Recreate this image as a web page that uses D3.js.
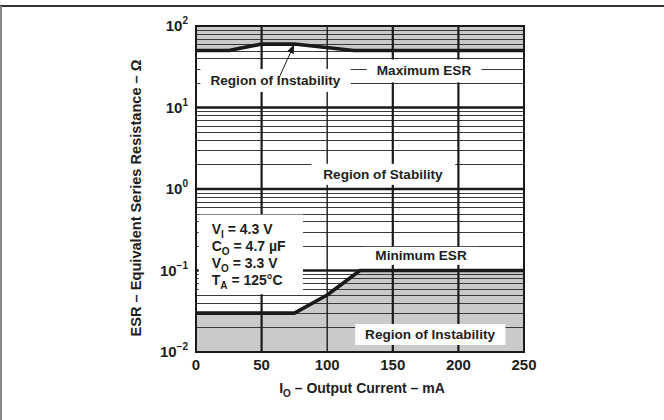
<!DOCTYPE html>
<html><head><meta charset="utf-8">
<script src="https://cdn.jsdelivr.net/npm/d3@7"></script>
<style>
body{margin:0;background:#fff}
svg{display:block}
text{font-family:"Liberation Sans",Arial,Helvetica,sans-serif;font-weight:bold;fill:#1e1e1e}
</style>
</head><body>
<svg id="chart" width="664" height="420"></svg>
<script>
// ---- data ----
const xTicks = [0, 50, 100, 150, 200, 250];
const yDecadeExps = [-2, -1, 0, 1, 2];
const yTickLabels = ["10", "10", "10", "10", "10"];
const yTickSups = ["−2", "−1", "0", "1", "2"];
const maxEsrCurrent = [0, 25, 50, 75, 120, 250];
const maxEsrValue = [50, 50, 60, 60, 50, 50];
const minEsrCurrent = [0, 75, 100, 125, 250];
const minEsrValue = [0.03, 0.03, 0.05, 0.1, 0.1];
const condSymbols = ["V", "C", "V", "T"];
const condSubs = ["I", "O", "O", "A"];
const condValues = [" = 4.3 V", " = 4.7 µF", " = 3.3 V", " = 125°C"];
const regionLabels = ["Region of Instability", "Maximum ESR", "Region of Stability", "Minimum ESR", "Region of Instability"];
const xTitle = ["I", "O", " – Output Current – mA"];
const yTitle = "ESR – Equivalent Series Resistance – Ω";

// ---- layout ----
const svg = d3.select("#chart");
const x = d3.scaleLinear().domain([0, 250]).range([196, 524]);
const y = d3.scaleLog().domain([0.01, 100]).range([352, 26]);
const GRAY = "#cacaca", INK = "#1a1a1a";

// page frame
svg.append("line").attr("x1", 0).attr("x2", 664).attr("y1", 6).attr("y2", 6)
  .attr("stroke", "#333").attr("stroke-width", 2);
svg.append("line").attr("x1", 1).attr("x2", 1).attr("y1", 6).attr("y2", 420)
  .attr("stroke", "#888").attr("stroke-width", 2);

const maxPts = maxEsrCurrent.map((c, i) => [c, maxEsrValue[i]]);
const minPts = minEsrCurrent.map((c, i) => [c, minEsrValue[i]]);

// gray instability regions
svg.append("path").datum(maxPts)
  .attr("d", d3.area().x(d => x(d[0])).y0(y(100)).y1(d => y(d[1])))
  .attr("fill", GRAY);
svg.append("path").datum(minPts)
  .attr("d", d3.area().x(d => x(d[0])).y0(y(0.01)).y1(d => y(d[1])))
  .attr("fill", GRAY);

// horizontal grid (log)
const minorVals = [];
yDecadeExps.slice(0, -1).forEach(e => {
  for (let m = 2; m <= 9; m++) minorVals.push(m * Math.pow(10, e));
});
svg.append("g").selectAll("line").data(minorVals).join("line")
  .attr("x1", x(0)).attr("x2", x(250))
  .attr("y1", d => Math.round(y(d)) + 0.5).attr("y2", d => Math.round(y(d)) + 0.5)
  .attr("stroke", "#3a3a3a").attr("stroke-width", 1);
svg.append("g").selectAll("line").data(yDecadeExps.slice(1, -1)).join("line")
  .attr("x1", x(0)).attr("x2", x(250))
  .attr("y1", d => y(Math.pow(10, d))).attr("y2", d => y(Math.pow(10, d)))
  .attr("stroke", INK).attr("stroke-width", 2.4);

// vertical grid
svg.append("g").selectAll("line").data(xTicks.slice(1, -1)).join("line")
  .attr("x1", d => x(d)).attr("x2", d => x(d))
  .attr("y1", y(100)).attr("y2", y(0.01))
  .attr("stroke", INK).attr("stroke-width", d => d === 100 ? 1.4 : 2.2);

// labels with white boxes
const lblGroup = svg.append("g");
function boxedLabel(text, cx, cy, padX, padY) {
  const g = lblGroup.append("g");
  const t = g.append("text").attr("x", x(cx)).attr("y", y(cy)).attr("dy", "0.36em")
    .attr("text-anchor", "middle").attr("font-size", 13.6).text(text);
  const b = t.node().getBBox();
  g.insert("rect", "text").attr("x", b.x - padX).attr("y", b.y - padY)
    .attr("width", b.width + 2 * padX).attr("height", b.height + 2 * padY)
    .attr("fill", "#fff");
  return t;
}
boxedLabel(regionLabels[0], 60.5, 21.7, 10, 4);
boxedLabel(regionLabels[1], 173.8, 28.4, 10, 4);
boxedLabel(regionLabels[2], 142.5, 1.53, 12, 3);
boxedLabel(regionLabels[3], 171.5, 0.153, 11, 1.5);
boxedLabel(regionLabels[4], 178.4, 0.0166, 10, 3);

// conditions legend
const cond = svg.append("g");
const condText = cond.append("g");
condSymbols.forEach((s, i) => {
  const t = condText.append("text").attr("x", x(12)).attr("y", y(0.327) + i * 17.2)
    .attr("dy", "0.36em").attr("font-size", 14);
  t.append("tspan").text(s);
  t.append("tspan").attr("font-size", 10).attr("dy", 4).text(condSubs[i]);
  t.append("tspan").attr("dy", -4).text(condValues[i]);
});
const cb = condText.node().getBBox();
cond.insert("rect", "g").attr("x", cb.x - 13).attr("y", cb.y - 6)
  .attr("width", cb.width + 30).attr("height", cb.height + 9).attr("fill", "#fff");

// ESR curves
const line = d3.line().x(d => x(d[0])).y(d => y(d[1]));
svg.append("path").datum(maxPts).attr("d", line)
  .attr("fill", "none").attr("stroke", INK).attr("stroke-width", 3.6).attr("stroke-linejoin", "round");
svg.append("path").datum(minPts).attr("d", line)
  .attr("fill", "none").attr("stroke", INK).attr("stroke-width", 3.6).attr("stroke-linejoin", "round");

// arrow from label to max ESR curve
svg.append("defs").append("marker").attr("id", "ah").attr("viewBox", "0 0 10 10")
  .attr("refX", 9).attr("refY", 5).attr("markerWidth", 9).attr("markerHeight", 9)
  .attr("orient", "auto").attr("markerUnits", "userSpaceOnUse")
  .append("path").attr("d", "M0,1 L10,5 L0,9 Z").attr("fill", INK);
svg.append("line").attr("x1", x(63.5)).attr("y1", y(23.5))
  .attr("x2", x(74.5)).attr("y2", y(58))
  .attr("stroke", INK).attr("stroke-width", 1).attr("marker-end", "url(#ah)");

// plot frame
svg.append("rect").attr("x", x(0)).attr("y", y(100)).attr("width", x(250) - x(0))
  .attr("height", y(0.01) - y(100)).attr("fill", "none").attr("stroke", INK).attr("stroke-width", 2);

// x tick labels
svg.append("g").selectAll("text").data(xTicks).join("text")
  .attr("x", d => x(d)).attr("y", y(0.01) + 18).attr("text-anchor", "middle")
  .attr("font-size", 15).text(d => d);

// y tick labels
yDecadeExps.forEach((e, i) => {
  const t = svg.append("text").attr("x", 188).attr("y", y(Math.pow(10, e)) + 5)
    .attr("text-anchor", "end").attr("font-size", 15);
  t.append("tspan").text(yTickLabels[i]);
  t.append("tspan").attr("font-size", 10).attr("dy", -7).text(yTickSups[i]);
});

// axis titles
const xt = svg.append("text").attr("x", 362).attr("y", 392.5).attr("text-anchor", "middle").attr("font-size", 14);
xt.append("tspan").text(xTitle[0]);
xt.append("tspan").attr("font-size", 10).attr("dy", 4).text(xTitle[1]);
xt.append("tspan").attr("dy", -4).text(xTitle[2]);

svg.append("text").attr("transform", "translate(141,198) rotate(-90)")
  .attr("text-anchor", "middle").attr("font-size", 14.6).text(yTitle);
</script>
</body></html>
